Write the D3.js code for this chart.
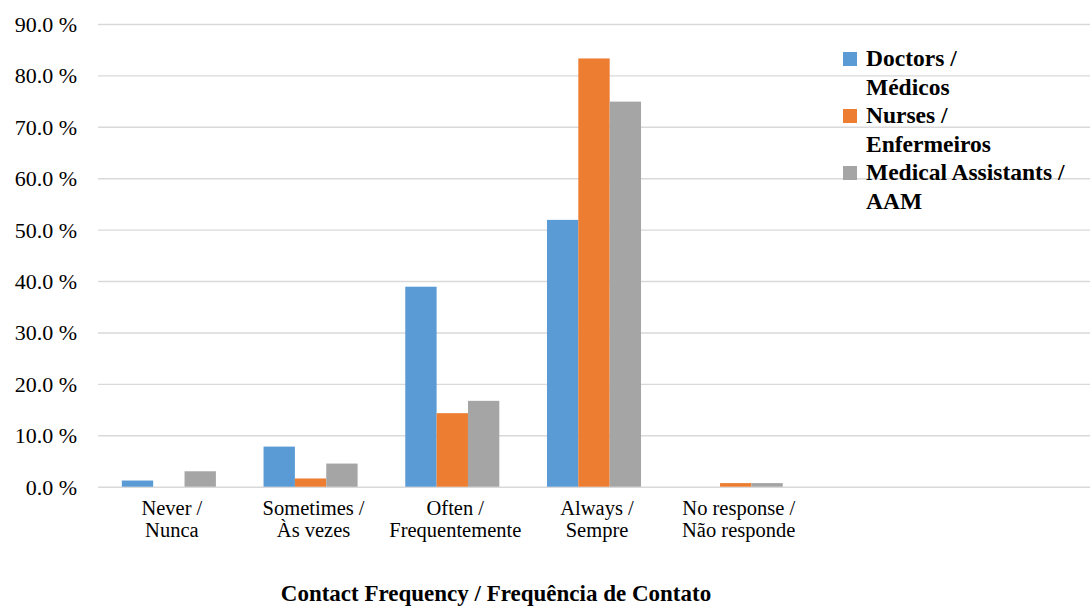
<!DOCTYPE html>
<html>
<head>
<meta charset="utf-8">
<script src="https://cdn.jsdelivr.net/npm/d3@7"></script>
<style>
  html, body { margin: 0; padding: 0; background: #fff; }
  svg { display: block; font-family: "Liberation Serif", "Times New Roman", serif; }
</style>
</head>
<body>
<svg id="chart" width="1090" height="607"></svg>
<script>
// Contact frequency by professional group (% of respondents)
const categories = [
  ["Never /", "Nunca"],
  ["Sometimes /", "Às vezes"],
  ["Often /", "Frequentemente"],
  ["Always /", "Sempre"],
  ["No response /", "Não responde"]
];
const seriesNames = [
  ["Doctors /", "Médicos"],
  ["Nurses /", "Enfermeiros"],
  ["Medical Assistants /", "AAM"]
];
const doctors   = [1.2, 7.8, 38.9, 51.9, 0.0];
const nurses    = [0.0, 1.6, 14.3, 83.3, 0.7];
const assistants = [3.0, 4.5, 16.7, 74.9, 0.7];
const seriesColors = ["#5B9BD5", "#ED7D31", "#A5A5A5"];
const yTicks = [0, 10, 20, 30, 40, 50, 60, 70, 80, 90];
const slotCount = 7; // category axis reserves two trailing empty slots
const axisTitle = "Contact Frequency / Frequência de Contato";

const series = [doctors, nurses, assistants];

const svg = d3.select("#chart");
const plotLeft = 98, plotRight = 1090, plotTop = 24, plotBottom = 486.7;

const x = d3.scaleBand().domain(d3.range(slotCount)).range([plotLeft, plotRight]).paddingInner(0).paddingOuter(0);
const xs = d3.scaleBand().domain(d3.range(series.length)).range([0, x.bandwidth()]).paddingInner(0).paddingOuter(0.76);
const y = d3.scaleLinear().domain([0, 90]).range([plotBottom, plotTop]);

// Gridlines and value labels
const yAxis = d3.axisLeft(y).tickValues(yTicks)
  .tickSize(-(plotRight - plotLeft))
  .tickPadding(21)
  .tickFormat(d => d3.format(".1f")(d) + " %");
const gy = svg.append("g").attr("transform", `translate(${plotLeft},0)`).call(yAxis);
gy.attr("font-family", null);
gy.select(".domain").remove();
gy.selectAll(".tick line").attr("stroke", "#d9d9d9").attr("stroke-width", 1.4);
gy.selectAll(".tick text")
  .attr("fill", "#000")
  .style("font-size", "22px")
  .style("font-family", "'Liberation Serif', serif")
  .attr("dy", "0.34em");

// Bars
const groups = svg.append("g").selectAll("g")
  .data(series)
  .join("g")
  .attr("fill", (d, i) => seriesColors[i]);
groups.selectAll("rect")
  .data((vals, si) => vals.map((v, ci) => ({ v, ci, si })))
  .join("rect")
  .attr("x", d => x(d.ci) + xs(d.si))
  .attr("width", xs.bandwidth())
  .attr("y", d => y(d.v))
  .attr("height", d => plotBottom - y(d.v));

// Category labels, two lines each
const gx = svg.append("g");
categories.forEach((lines, ci) => {
  lines.forEach((ln, li) => {
    gx.append("text")
      .attr("text-anchor", "middle")
      .attr("x", x(ci) + x.bandwidth() / 2 + 3)
      .attr("y", 514.5 + li * 22)
      .style("font-size", "20.5px")
      .attr("fill", "#000")
      .text(ln);
  });
});

// Axis title
svg.append("text")
  .attr("x", 496)
  .attr("y", 601)
  .attr("text-anchor", "middle")
  .style("font-size", "23px")
  .style("font-weight", "bold")
  .attr("fill", "#000")
  .text(axisTitle);

// Legend
const legend = svg.append("g");
seriesNames.forEach((lines, i) => {
  const baseY = 66 + i * 57;
  legend.append("rect")
    .attr("x", 843).attr("y", baseY - 14)
    .attr("width", 14).attr("height", 14)
    .attr("fill", seriesColors[i]);
  lines.forEach((ln, li) => {
    legend.append("text")
      .attr("x", 866)
      .attr("y", baseY + li * 28.5)
      .style("font-size", "23.5px")
      .style("font-weight", "bold")
      .attr("fill", "#000")
      .text(ln);
  });
});
</script>
</body>
</html>
